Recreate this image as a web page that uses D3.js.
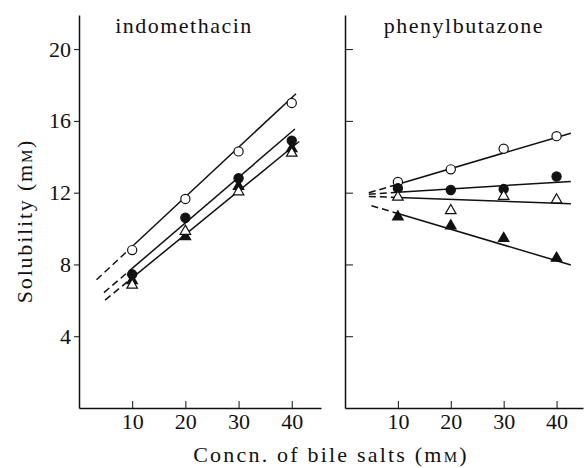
<!DOCTYPE html>
<html><head><meta charset="utf-8">
<script src="https://cdn.jsdelivr.net/npm/d3@7"></script>
<style>
body{margin:0;background:#fff;}
svg{display:block;}
svg text{font-family:"Liberation Serif","DejaVu Serif","Times New Roman",serif !important;fill:#111;}
</style></head>
<body>
<svg id="chart" width="586" height="468"></svg>
<script>
// ---- data ----
const concentrations = [10, 20, 30, 40];
const panels = ["indomethacin", "phenylbutazone"];
const seriesNames = ["openCircle", "filledCircle", "filledTriangle", "openTriangle"];
const indoOpenCircle = [8.8, 11.65, 14.3, 17.0];
const indoFilledCircle = [7.45, 10.6, 12.8, 14.9];
const indoOpenTriangle = [6.85, 9.85, 12.05, 14.2];
const indoFilledTriangle = [7.1, 9.55, 12.35, 14.45];
const phenOpenCircle = [12.6, 13.3, 14.45, 15.15];
const phenFilledCircle = [12.25, 12.15, 12.2, 12.9];
const phenOpenTriangle = [11.75, 11.0, 11.8, 11.6];
const phenFilledTriangle = [10.65, 10.15, 9.45, 8.35];
// fitted lines: [intercept, slope, dashStartX, solidStartX, endX]
const indoLines = [[6.23, 0.2766, 3.3, 10, 40.8], [5.24, 0.2538, 4.7, 10, 40.6], [4.83, 0.242, 4.9, 10, 41.4]];
const phenLines = [[11.6, 0.087, 4.5, 10, 42.7], [11.83, 0.0187, 4.5, 10, 42.7], [11.84, -0.0108, 4.5, 10, 42.7], [11.71, -0.0875, 5.0, 10, 42.7]];
const yTicks = [4, 8, 12, 16, 20];
const xTicks = [10, 20, 30, 40];

const FONT = '"Liberation Serif","DejaVu Serif",serif';
const svg = d3.select("#chart");
const y = d3.scaleLinear().domain([0, 21.9]).range([408, 15]);
const xL = d3.scaleLinear().domain([0, 45.5]).range([79, 321]);
const xR = d3.scaleLinear().domain([0, 45]).range([345, 583]);

function drawAxes(x, left) {
  const g = svg.append("g");
  const ax = left
    ? d3.axisLeft(y).tickValues(yTicks).tickSizeInner(5).tickSizeOuter(0).tickPadding(3)
    : d3.axisRight(y).tickValues(yTicks).tickSizeInner(8).tickSizeOuter(0).tickFormat("");
  g.append("g").attr("transform", `translate(${x(0)},0)`).call(ax);
  g.append("g").attr("transform", `translate(0,${y(0)})`)
    .call(d3.axisBottom(x).tickValues(xTicks).tickSizeInner(-7).tickSizeOuter(0).tickPadding(5));
  g.selectAll("g").attr("font-family", FONT).attr("font-size", 22);
  g.selectAll(".domain").attr("stroke", "#111").attr("stroke-width", 1.5);
  g.selectAll(".tick line").attr("stroke", "#111").attr("stroke-width", 1);
  g.selectAll(".tick text").attr("font-size", 22).attr("font-family", FONT).attr("fill", "#111");
}
drawAxes(xL, true);
drawAxes(xR, false);

function drawPanel(x, lines, data) {
  const g = svg.append("g");
  lines.forEach(l => {
    const f = v => l[0] + l[1] * v;
    g.append("line").attr("x1", x(l[2])).attr("y1", y(f(l[2]))).attr("x2", x(l[3])).attr("y2", y(f(l[3])))
      .attr("stroke", "#111").attr("stroke-width", 1.5).attr("stroke-dasharray", "7,4");
    g.append("line").attr("x1", x(l[3])).attr("y1", y(f(l[3]))).attr("x2", x(l[4])).attr("y2", y(f(l[4])))
      .attr("stroke", "#111").attr("stroke-width", 1.5);
  });
  const tri = d3.symbol(d3.symbolTriangle, 48);
  data.forEach((vals, si) => {
    const name = seriesNames[si];
    vals.forEach((v, i) => {
      const cx = x(concentrations[i]), cy = y(v);
      const filled = name.startsWith("filled");
      if (name.endsWith("Circle")) {
        g.append("circle").attr("cx", cx).attr("cy", cy).attr("r", 4.6)
          .attr("fill", filled ? "#111" : "#fff").attr("stroke", "#111").attr("stroke-width", 1.2);
      } else {
        g.append("path").attr("d", tri()).attr("transform", `translate(${cx},${cy})`)
          .attr("fill", filled ? "#111" : "#fff").attr("stroke", "#111").attr("stroke-width", 1.2);
      }
    });
  });
}
drawPanel(xL, indoLines, [indoOpenCircle, indoFilledCircle, indoFilledTriangle, indoOpenTriangle]);
drawPanel(xR, phenLines, [phenOpenCircle, phenFilledCircle, phenFilledTriangle, phenOpenTriangle]);

// titles
svg.append("text").attr("x", 184).attr("y", 33).attr("text-anchor", "middle").attr("font-family", FONT)
  .attr("font-size", 22).attr("letter-spacing", 1.5).text(panels[0]);
svg.append("text").attr("x", 464).attr("y", 33).attr("text-anchor", "middle").attr("font-family", FONT)
  .attr("font-size", 22).attr("letter-spacing", 1.5).text(panels[1]);

// axis labels
const yl = svg.append("text").attr("transform", "translate(32,221) rotate(-90)").attr("font-family", FONT)
  .attr("text-anchor", "middle").attr("font-size", 22).attr("letter-spacing", 1.8);
yl.append("tspan").text("Solubility (m");
yl.append("tspan").attr("font-size", 15).text("M");
yl.append("tspan").text(")");
const xl = svg.append("text").attr("x", 331).attr("y", 462).attr("font-family", FONT)
  .attr("text-anchor", "middle").attr("font-size", 22).attr("letter-spacing", 2.2);
xl.append("tspan").text("Concn. of bile salts (m");
xl.append("tspan").attr("font-size", 15).text("M");
xl.append("tspan").text(")");
</script>
</body></html>
